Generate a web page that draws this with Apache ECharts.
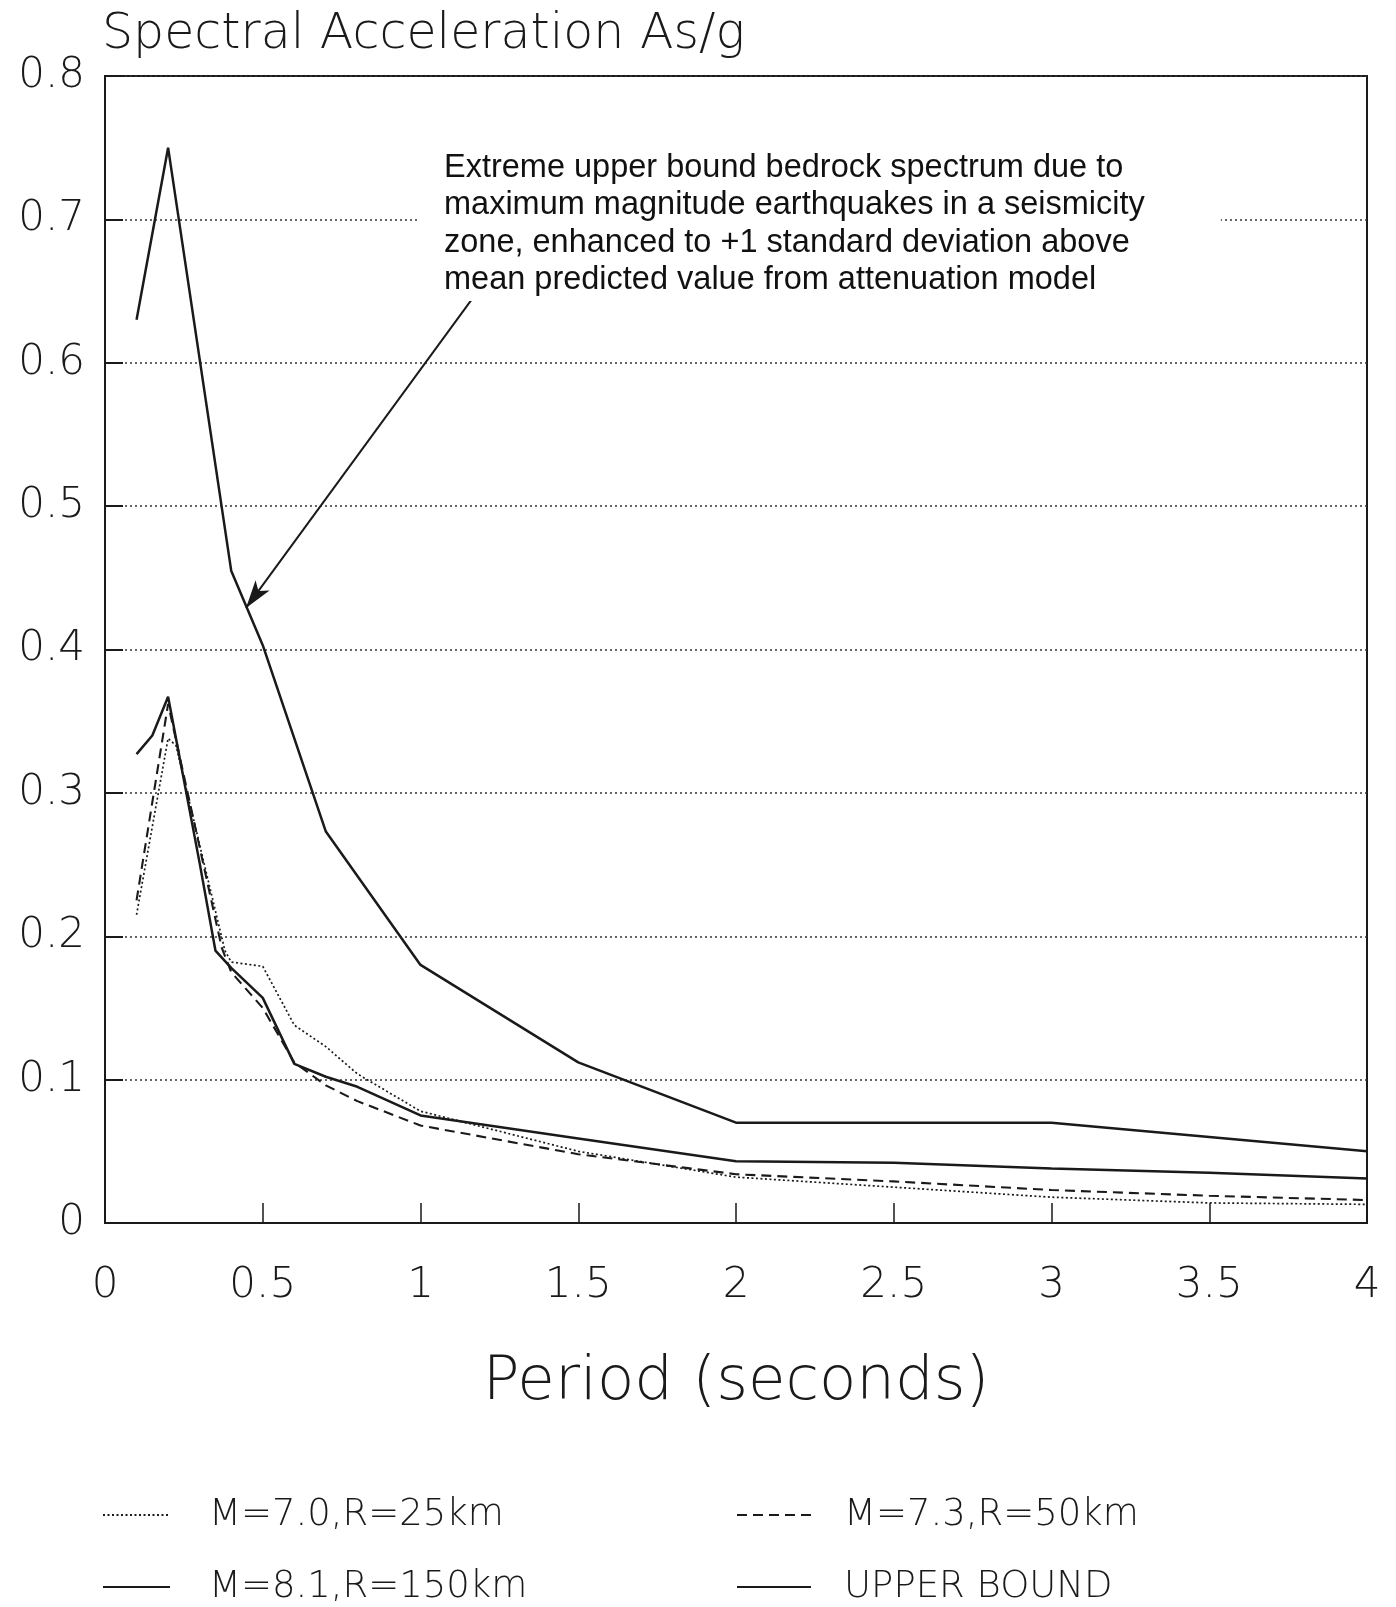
<!DOCTYPE html>
<html>
<head>
<meta charset="utf-8">
<script src="https://cdn.jsdelivr.net/npm/echarts@6/dist/echarts.min.js"></script>
<style>
html,body{margin:0;padding:0;background:#fff;}
#chart{width:1396px;height:1607px;}
</style>
</head>
<body>
<div id="chart"></div>
<script>
// ---- data (period in seconds, spectral acceleration As/g) ----
const seriesNames = ['M=7.0,R=25km', 'M=8.1,R=150km', 'M=7.3,R=50km', 'UPPER BOUND'];

const periodM70 = [0.1, 0.2, 0.225, 0.38, 0.4, 0.5, 0.6, 0.7, 0.8, 1.0, 1.5, 2.0, 2.5, 3.0, 3.5, 4.0];
const valueM70  = [0.215, 0.338, 0.333, 0.19, 0.182, 0.179, 0.138, 0.123, 0.104, 0.078, 0.05, 0.032, 0.025, 0.018, 0.014, 0.013];

const periodM81 = [0.1, 0.15, 0.2, 0.3, 0.35, 0.4, 0.5, 0.6, 0.7, 0.8, 1.0, 1.5, 2.0, 2.5, 3.0, 3.5, 4.0];
const valueM81  = [0.327, 0.34, 0.367, 0.251, 0.19, 0.178, 0.157, 0.111, 0.102, 0.095, 0.075, 0.059, 0.043, 0.042, 0.038, 0.035, 0.031];

const periodM73 = [0.1, 0.2, 0.3, 0.37, 0.4, 0.5, 0.6, 0.7, 0.8, 1.0, 1.5, 2.0, 2.5, 3.0, 3.5, 4.0];
const valueM73  = [0.225, 0.362, 0.262, 0.192, 0.175, 0.15, 0.112, 0.096, 0.085, 0.068, 0.048, 0.034, 0.029, 0.023, 0.019, 0.016];

const periodUpper = [0.1, 0.2, 0.4, 0.5, 0.7, 1.0, 1.5, 2.0, 3.0, 3.5, 4.0];
const valueUpper  = [0.63, 0.75, 0.455, 0.403, 0.273, 0.18, 0.112, 0.07, 0.07, 0.06, 0.05];

const annotationText = [
  'Extreme upper bound bedrock spectrum due to',
  'maximum magnitude earthquakes in a seismicity',
  'zone, enhanced to +1 standard deviation above',
  'mean predicted value from attenuation model'
];
const arrowFrom = [1.195, 0.654];
const arrowTo = [0.447, 0.429];

const yTitle = 'Spectral Acceleration As/g';
const xTitle = 'Period (seconds)';

// ---- build ----
function zip(xs, ys) { return xs.map((x, i) => [x, ys[i]]); }
const FONT = 'DejaVu Sans';
const INK = '#1a1a1a';

const chart = echarts.init(document.getElementById('chart'), null, {renderer: 'canvas'});

function legendText(padLeft) {
  return {fontFamily: FONT, fontSize: 37, fontWeight: 200, color: INK, lineHeight: 40, padding: [0, 0, 0, padLeft]};
}

const option = {
  backgroundColor: '#fff',
  animation: false,
  title: {
    text: yTitle,
    left: 97, top: 6,
    textStyle: {fontFamily: FONT, fontSize: 49, fontWeight: 200, color: INK}
  },
  grid: {
    left: 105, right: 29, top: 76, bottom: 384,
    show: true, borderColor: INK, borderWidth: 2, backgroundColor: 'transparent'
  },
  legend: [
    {
      data: [seriesNames[0], seriesNames[1]],
      orient: 'vertical', left: 102, top: 1495, height: 200, padding: 0,
      itemWidth: 67, itemHeight: 14, itemGap: 32,
      itemStyle: {opacity: 0},
      textStyle: legendText(34)
    },
    {
      data: [seriesNames[2], seriesNames[3]],
      orient: 'vertical', left: 736, top: 1495, height: 200, padding: 0,
      itemWidth: 74, itemHeight: 14, itemGap: 32,
      itemStyle: {opacity: 0},
      textStyle: legendText(28)
    }
  ],
  xAxis: {
    type: 'value', min: 0, max: 4, interval: 0.5,
    name: xTitle, nameLocation: 'middle', nameGap: 130,
    nameTextStyle: {fontFamily: FONT, fontSize: 61, fontWeight: 200, color: INK},
    axisLine: {show: true, lineStyle: {color: INK, width: 2}},
    axisTick: {show: true, inside: true, length: 20, lineStyle: {color: INK, width: 1.5}},
    axisLabel: {fontFamily: FONT, fontSize: 42, fontWeight: 200, color: INK, margin: 42},
    splitLine: {show: false}
  },
  yAxis: {
    type: 'value', min: 0, max: 0.8, interval: 0.1,
    axisLine: {show: true, lineStyle: {color: INK, width: 2}},
    axisTick: {show: true, inside: true, length: 18, lineStyle: {color: INK, width: 2}},
    axisLabel: {fontFamily: FONT, fontSize: 42, fontWeight: 200, color: INK, margin: 20, padding: [9, 0, 0, 0]},
    splitLine: {show: true, lineStyle: {color: '#333', width: 1.5, type: [2, 3]}}
  },
  graphic: [
    {
      type: 'text', x: 420, y: 147, z: 100,
      style: {
        text: annotationText.join('\n'),
        font: '32.5px "Liberation Sans"',
        lineHeight: 37.5,
        fill: '#111',
        backgroundColor: '#fff',
        padding: [2, 76, 2, 24]
      }
    }
  ],
  series: [
    {
      name: seriesNames[0], type: 'line', data: zip(periodM70, valueM70),
      symbol: 'none', smooth: false,
      lineStyle: {color: INK, width: 1.7, type: [2, 2.5]},
      itemStyle: {color: INK}
    },
    {
      name: seriesNames[1], type: 'line', data: zip(periodM81, valueM81),
      symbol: 'none',
      lineStyle: {color: INK, width: 2.5, type: 'solid'},
      itemStyle: {color: INK}
    },
    {
      name: seriesNames[2], type: 'line', data: zip(periodM73, valueM73),
      symbol: 'none',
      lineStyle: {color: INK, width: 2.1, type: [10, 6]},
      itemStyle: {color: INK}
    },
    {
      name: seriesNames[3], type: 'line', data: zip(periodUpper, valueUpper),
      symbol: 'none',
      lineStyle: {color: INK, width: 2.5, type: 'solid'},
      itemStyle: {color: INK},
      markLine: {
        silent: true,
        symbol: ['none', 'arrow'],
        symbolSize: [13, 28],
        label: {show: false},
        lineStyle: {color: INK, width: 2, type: 'solid'},
        data: [[{coord: arrowFrom}, {coord: arrowTo}]]
      }
    }
  ]
};
chart.setOption(option);
</script>
</body>
</html>
